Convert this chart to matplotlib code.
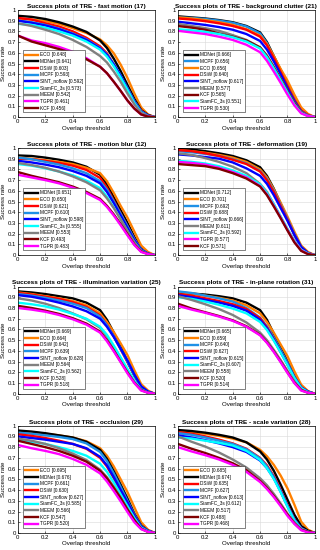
import matplotlib
matplotlib.use('Agg')
import matplotlib.pyplot as plt

plt.rcParams['font.family'] = ['Liberation Sans', 'DejaVu Sans']

# overlap thresholds where the curves were read
thr = [0, 0.1, 0.2, 0.3, 0.4, 0.5, 0.6, 0.65, 0.7, 0.75, 0.8, 0.85, 0.9, 0.95, 1.0]

colors = {'ECO': '#ff8000', 'MDNet': '#000000', 'DSiW': '#ff0000', 'MCPF': '#1e90e6',
          'SINT_noflow': '#0000ff', 'SiamFC_3s': '#00ffff', 'MEEM': '#808080',
          'TGPR': '#ff00ff', 'KCF': '#800000'}

# fast motion (17)
fm_names = ['ECO', 'MDNet', 'DSiW', 'MCPF', 'SINT_noflow', 'SiamFC_3s', 'MEEM', 'TGPR', 'KCF']
fm_auc = [0.648, 0.641, 0.603, 0.593, 0.592, 0.573, 0.542, 0.461, 0.456]
fm_curves = [
    [.92, .91, .895, .87, .83, .785, .725, .67, .595, .49, .365, .22, .09, .025, 0],
    [.945, .935, .915, .885, .845, .795, .715, .645, .545, .43, .30, .17, .065, .02, 0],
    [.925, .91, .875, .845, .80, .74, .66, .595, .49, .38, .27, .15, .06, .015, 0],
    [.90, .885, .86, .825, .78, .725, .645, .585, .495, .39, .27, .15, .055, .015, 0],
    [.90, .88, .855, .82, .775, .72, .64, .58, .49, .385, .265, .145, .05, .015, 0],
    [.87, .86, .835, .80, .76, .705, .63, .565, .475, .37, .255, .135, .045, .01, 0],
    [.875, .85, .815, .775, .72, .655, .57, .51, .425, .33, .22, .12, .04, .01, 0],
    [.76, .715, .69, .655, .61, .55, .47, .41, .33, .245, .155, .08, .025, .005, 0],
    [.76, .705, .67, .635, .595, .54, .47, .41, .33, .245, .155, .08, .025, .005, 0],
]

# background clutter (21)
bc_names = ['MDNet', 'MCPF', 'ECO', 'DSiW', 'SINT_noflow', 'MEEM', 'KCF', 'SiamFC_3s', 'TGPR']
bc_auc = [0.666, 0.656, 0.656, 0.640, 0.617, 0.577, 0.565, 0.551, 0.530]
bc_curves = [
    [.94, .93, .92, .905, .885, .85, .79, .70, .57, .44, .31, .18, .07, .02, 0],
    [.93, .925, .915, .90, .88, .845, .78, .69, .56, .43, .30, .17, .065, .02, 0],
    [.93, .92, .905, .885, .86, .82, .76, .68, .57, .45, .34, .21, .09, .03, 0],
    [.92, .91, .895, .875, .85, .815, .75, .67, .55, .42, .29, .16, .06, .02, 0],
    [.89, .875, .86, .84, .815, .775, .71, .63, .52, .40, .27, .15, .055, .015, 0],
    [.87, .85, .83, .805, .765, .72, .65, .575, .47, .36, .24, .135, .05, .015, 0],
    [.85, .835, .815, .78, .75, .715, .65, .57, .465, .355, .24, .13, .045, .01, 0],
    [.82, .81, .795, .775, .745, .705, .64, .56, .455, .345, .23, .12, .04, .01, 0],
    [.805, .79, .775, .75, .72, .675, .605, .525, .425, .32, .21, .11, .035, .01, 0],
]

# motion blur (12)
mb_names = ['MDNet', 'ECO', 'DSiW', 'MCPF', 'SINT_noflow', 'SiamFC_3s', 'MEEM', 'KCF', 'TGPR']
mb_auc = [0.651, 0.650, 0.621, 0.610, 0.598, 0.555, 0.553, 0.493, 0.483]
mb_curves = [
    [.93, .925, .91, .89, .865, .825, .75, .66, .54, .42, .30, .17, .065, .02, 0],
    [.91, .90, .885, .87, .85, .815, .765, .69, .58, .46, .35, .22, .09, .03, 0],
    [.90, .895, .88, .86, .835, .795, .72, .63, .51, .39, .27, .15, .055, .015, 0],
    [.91, .895, .87, .845, .81, .765, .69, .61, .50, .385, .27, .15, .055, .015, 0],
    [.88, .865, .845, .82, .785, .74, .67, .59, .485, .37, .255, .14, .05, .015, 0],
    [.85, .835, .81, .78, .745, .695, .625, .545, .445, .335, .225, .12, .04, .01, 0],
    [.86, .84, .815, .78, .735, .68, .605, .53, .44, .335, .225, .12, .04, .01, 0],
    [.775, .74, .71, .68, .64, .59, .525, .46, .38, .29, .195, .10, .035, .01, 0],
    [.75, .725, .70, .67, .63, .58, .515, .45, .37, .28, .185, .095, .03, .01, 0],
]

# deformation (19)
df_names = ['MDNet', 'ECO', 'MCPF', 'DSiW', 'SINT_noflow', 'MEEM', 'SiamFC_3s', 'TGPR', 'KCF']
df_auc = [0.712, 0.701, 0.692, 0.688, 0.666, 0.611, 0.592, 0.577, 0.571]
df_curves = [
    [.99, .985, .97, .95, .925, .885, .82, .74, .62, .48, .34, .20, .08, .02, 0],
    [.98, .97, .955, .935, .91, .87, .80, .725, .615, .49, .36, .22, .09, .03, 0],
    [.97, .96, .945, .925, .895, .855, .785, .71, .60, .47, .34, .20, .08, .02, 0],
    [.98, .97, .95, .925, .89, .85, .78, .70, .59, .46, .33, .19, .075, .02, 0],
    [.94, .93, .915, .90, .865, .81, .74, .665, .56, .44, .32, .19, .075, .02, 0],
    [.95, .935, .905, .87, .825, .765, .665, .59, .475, .36, .24, .135, .05, .015, 0],
    [.88, .87, .855, .83, .79, .74, .66, .58, .475, .36, .245, .135, .05, .015, 0],
    [.87, .86, .845, .815, .775, .725, .645, .565, .46, .35, .235, .125, .045, .01, 0],
    [.85, .84, .83, .805, .765, .715, .64, .56, .455, .345, .23, .12, .04, .01, 0],
]

# illumination variation (25)
iv_names = ['MDNet', 'ECO', 'DSiW', 'MCPF', 'SINT_noflow', 'MEEM', 'SiamFC_3s', 'KCF', 'TGPR']
iv_auc = [0.669, 0.664, 0.642, 0.639, 0.628, 0.564, 0.562, 0.528, 0.518]
iv_curves = [
    [.955, .945, .93, .91, .89, .85, .78, .69, .57, .44, .30, .17, .065, .02, 0],
    [.945, .93, .91, .89, .865, .825, .75, .67, .575, .47, .36, .22, .09, .03, 0],
    [.94, .925, .905, .885, .855, .81, .73, .645, .535, .415, .295, .17, .065, .02, 0],
    [.93, .915, .895, .87, .84, .80, .72, .64, .535, .42, .30, .17, .065, .02, 0],
    [.92, .905, .88, .85, .815, .77, .70, .625, .53, .42, .31, .18, .07, .02, 0],
    [.89, .87, .84, .80, .75, .695, .615, .535, .435, .325, .215, .115, .04, .01, 0],
    [.85, .835, .815, .785, .745, .70, .625, .55, .45, .34, .23, .12, .04, .01, 0],
    [.82, .80, .775, .745, .705, .655, .58, .50, .405, .30, .20, .105, .035, .01, 0],
    [.80, .785, .765, .735, .695, .645, .57, .49, .395, .295, .19, .10, .03, .01, 0],
]

# in-plane rotation (31)
ipr_names = ['MDNet', 'ECO', 'MCPF', 'DSiW', 'SINT_noflow', 'SiamFC_3s', 'MEEM', 'KCF', 'TGPR']
ipr_auc = [0.665, 0.659, 0.640, 0.627, 0.615, 0.607, 0.558, 0.520, 0.514]
ipr_curves = [
    [.94, .935, .925, .91, .89, .85, .78, .69, .56, .43, .30, .17, .065, .02, 0],
    [.95, .935, .915, .895, .87, .825, .75, .67, .57, .46, .35, .21, .085, .025, 0],
    [.955, .94, .915, .89, .86, .80, .71, .63, .525, .41, .29, .16, .06, .02, 0],
    [.93, .915, .89, .865, .835, .79, .705, .62, .51, .39, .275, .155, .06, .02, 0],
    [.92, .90, .875, .85, .82, .775, .69, .61, .505, .39, .275, .155, .06, .02, 0],
    [.90, .885, .86, .83, .795, .75, .67, .595, .495, .385, .27, .15, .055, .015, 0],
    [.91, .875, .835, .79, .735, .665, .57, .50, .41, .315, .215, .115, .04, .01, 0],
    [.84, .795, .76, .725, .685, .63, .55, .48, .395, .30, .20, .105, .035, .01, 0],
    [.82, .785, .755, .72, .68, .625, .545, .475, .39, .295, .195, .10, .03, .01, 0],
]

# occlusion (29)
occ_names = ['ECO', 'MDNet', 'MCPF', 'DSiW', 'SINT_noflow', 'SiamFC_3s', 'MEEM', 'KCF', 'TGPR']
occ_auc = [0.695, 0.676, 0.661, 0.630, 0.627, 0.585, 0.566, 0.547, 0.520]
occ_curves = [
    [.95, .94, .925, .91, .89, .855, .79, .72, .62, .50, .38, .24, .10, .03, 0],
    [.955, .945, .93, .91, .89, .85, .775, .69, .575, .45, .32, .18, .07, .02, 0],
    [.935, .925, .91, .895, .875, .835, .755, .67, .555, .43, .30, .17, .065, .02, 0],
    [.92, .905, .885, .86, .83, .785, .70, .62, .51, .39, .28, .16, .06, .02, 0],
    [.90, .885, .87, .85, .83, .79, .71, .63, .52, .40, .285, .16, .06, .02, 0],
    [.86, .85, .83, .80, .765, .72, .645, .57, .47, .36, .25, .14, .05, .015, 0],
    [.88, .86, .83, .79, .74, .68, .59, .52, .43, .33, .22, .12, .04, .01, 0],
    [.86, .83, .80, .765, .72, .665, .58, .51, .42, .325, .22, .12, .04, .01, 0],
    [.82, .79, .765, .735, .69, .635, .555, .48, .39, .295, .195, .10, .035, .01, 0],
]

# scale variation (28)
sv_names = ['ECO', 'MDNet', 'DSiW', 'MCPF', 'SINT_noflow', 'SiamFC_3s', 'MEEM', 'KCF', 'TGPR']
sv_auc = [0.685, 0.674, 0.635, 0.627, 0.613, 0.612, 0.517, 0.488, 0.468]
sv_curves = [
    [.95, .94, .925, .905, .88, .845, .775, .715, .635, .535, .415, .265, .105, .03, 0],
    [.96, .95, .935, .915, .89, .845, .76, .685, .58, .45, .31, .17, .065, .02, 0],
    [.94, .925, .90, .87, .835, .785, .70, .63, .53, .40, .26, .13, .045, .01, 0],
    [.93, .915, .89, .86, .83, .78, .695, .62, .52, .39, .25, .125, .04, .01, 0],
    [.91, .89, .865, .835, .80, .755, .675, .605, .51, .385, .25, .125, .045, .01, 0],
    [.89, .88, .86, .84, .815, .765, .68, .605, .505, .38, .245, .12, .04, .01, 0],
    [.90, .85, .805, .75, .685, .61, .51, .445, .365, .275, .18, .10, .035, .01, 0],
    [.83, .785, .745, .70, .65, .585, .485, .42, .345, .26, .17, .09, .03, .01, 0],
    [.80, .76, .725, .685, .635, .57, .475, .41, .335, .25, .16, .085, .025, .005, 0],
]

panels = [
    ('fast motion (17)', fm_names, fm_auc, fm_curves),
    ('background clutter (21)', bc_names, bc_auc, bc_curves),
    ('motion blur (12)', mb_names, mb_auc, mb_curves),
    ('deformation (19)', df_names, df_auc, df_curves),
    ('illumination variation (25)', iv_names, iv_auc, iv_curves),
    ('in-plane rotation (31)', ipr_names, ipr_auc, ipr_curves),
    ('occlusion (29)', occ_names, occ_auc, occ_curves),
    ('scale variation (28)', sv_names, sv_auc, sv_curves),
]

fig = plt.figure(figsize=(3.2, 5.5), dpi=100)

lefts = [0.056, 0.556]
bottoms = [0.787, 0.536, 0.284, 0.031]
w, h = 0.428, 0.195

yticks = [i / 10 for i in range(11)]
ylabels = ['0', '0.1', '0.2', '0.3', '0.4', '0.5', '0.6', '0.7', '0.8', '0.9', '1']
xticks = [0, 0.2, 0.4, 0.6, 0.8, 1.0]
xlabels = ['0', '0.2', '0.4', '0.6', '0.8', '1']

for i, (title, names, auc, curves) in enumerate(panels):
    ax = fig.add_axes([lefts[i % 2], bottoms[i // 2], w, h])
    for name, a, vals in zip(names, auc, curves):
        ax.plot(thr, vals, color=colors[name], lw=1.7,
                label='%s [%.3f]' % (name, a))
    ax.set_xlim(0, 1)
    ax.set_ylim(0, 1)
    ax.set_xticks(xticks)
    ax.set_xticklabels(xlabels)
    ax.set_yticks(yticks)
    ax.set_yticklabels(ylabels)
    ax.tick_params(direction='in', length=1.5, width=0.4, labelsize=4.3, pad=1.5)
    ax.grid(True, color='#d9d9d9', lw=0.4)
    ax.set_axisbelow(True)
    for s in ax.spines.values():
        s.set_linewidth(0.5)
    ax.set_title('Success plots of TRE - ' + title, fontsize=4.6,
                 fontweight='bold', pad=1.5)
    ax.set_xlabel('Overlap threshold', fontsize=4.4, labelpad=1)
    ax.set_ylabel('Success rate', fontsize=4.4, labelpad=1)
    leg = ax.legend(loc='lower left', fontsize=3.4, handlelength=2.8,
                    handletextpad=0.5, labelspacing=0.35, borderpad=0.4,
                    borderaxespad=1.0, fancybox=False, framealpha=1)
    leg.get_frame().set_edgecolor('#222222')
    leg.get_frame().set_linewidth(0.4)

fig.savefig('out.png', dpi=100)
